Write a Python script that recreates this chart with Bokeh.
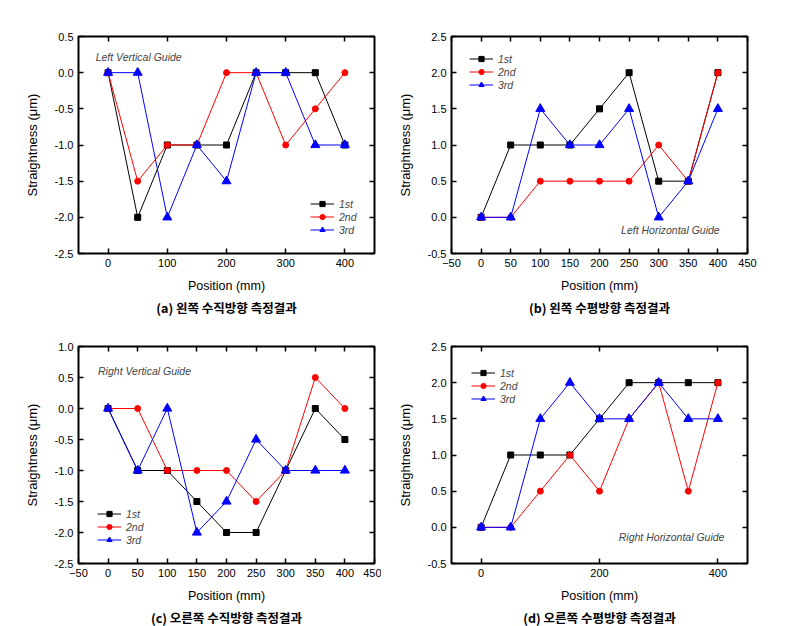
from bokeh.plotting import figure
from bokeh.layouts import column, row
from bokeh.models import (Range1d, FixedTicker, NumeralTickFormatter, LinearAxis,
                          Title, Label)
from bokeh.embed import file_html
from bokeh.resources import INLINE

positions = [0, 50, 100, 150, 200, 250, 300, 350, 400]
series_names = ["1st", "2nd", "3rd"]

a_1st = [0, -2, -1, -1, -1, 0, 0, 0, -1]
a_2nd = [0, -1.5, -1, -1, 0, 0, -1, -0.5, 0]
a_3rd = [0, 0, -2, -1, -1.5, 0, 0, -1, -1]

b_1st = [0, 1, 1, 1, 1.5, 2, 0.5, 0.5, 2]
b_2nd = [0, 0, 0.5, 0.5, 0.5, 0.5, 1, 0.5, 2]
b_3rd = [0, 0, 1.5, 1, 1, 1.5, 0, 0.5, 1.5]

c_1st = [0, -1, -1, -1.5, -2, -2, -1, 0, -0.5]
c_2nd = [0, 0, -1, -1, -1, -1.5, -1, 0.5, 0]
c_3rd = [0, -1, 0, -2, -1.5, -0.5, -1, -1, -1]

d_1st = [0, 1, 1, 1, 1.5, 2, 2, 2, 2]
d_2nd = [0, 0, 0.5, 1, 0.5, 1.5, 2, 0.5, 2]
d_3rd = [0, 0, 1.5, 2, 1.5, 1.5, 2, 1.5, 1.5]

ticks_100 = [0, 100, 200, 300, 400]
ticks_50 = [-50, 0, 50, 100, 150, 200, 250, 300, 350, 400, 450]
ticks_200 = [0, 200, 400]

captions = ["(a) 왼쪽 수직방향 측정결과", "(b) 왼쪽 수평방향 측정결과",
            "(c) 오른쪽 수직방향 측정결과", "(d) 오른쪽 수평방향 측정결과"]
insets = ["Left Vertical Guide", "Left Horizontal Guide",
          "Right Vertical Guide", "Right Horizontal Guide"]

FONT = "Liberation Sans"
colors = ["black", "#ff0000", "#0000ff"]
markers = ["square", "circle", "triangle"]
msizes = [6, 6, 9]


def panel(series, xticks, ylo, yhi, caption, inset, inset_xy, inset_align,
          legend_loc, left, right, top_b, bottom):
    p = figure(frame_width=296, frame_height=217, output_backend="svg",
               toolbar_location=None, x_range=Range1d(-50, 450),
               y_range=Range1d(ylo, yhi), min_border_left=left,
               min_border_right=right, min_border_top=top_b,
               min_border_bottom=bottom)
    p.xgrid.visible = False
    p.ygrid.visible = False
    p.outline_line_color = "black"
    p.outline_line_width = 2
    p.background_fill_color = "white"
    p.border_fill_color = "white"

    yticks = [v / 2 for v in range(int(ylo * 2), int(yhi * 2) + 1)]

    for ax in [p.xaxis[0], p.yaxis[0]]:
        ax.axis_line_color = None
        ax.major_tick_in = 5
        ax.major_tick_out = 0
        ax.major_tick_line_width = 1.5
        ax.minor_tick_line_color = None
        ax.major_label_text_font = FONT
        ax.major_label_text_font_size = "11px"
        ax.major_label_text_color = "black"
        ax.axis_label_text_font = FONT
        ax.axis_label_text_font_style = "normal"
        ax.axis_label_text_color = "black"

    p.xaxis[0].ticker = FixedTicker(ticks=xticks)
    p.xaxis[0].axis_label = "Position (mm)"
    p.xaxis[0].axis_label_text_font_size = "12.5px"
    p.xaxis[0].axis_label_standoff = 9
    p.yaxis[0].ticker = FixedTicker(ticks=yticks)
    p.yaxis[0].formatter = NumeralTickFormatter(format="0.0")
    p.yaxis[0].axis_label = "Straightness (μm)"
    p.yaxis[0].axis_label_text_font_size = "13px"
    p.yaxis[0].axis_label_standoff = 12

    top = LinearAxis(ticker=FixedTicker(ticks=xticks))
    rgt = LinearAxis(ticker=FixedTicker(ticks=yticks))
    for ax in [top, rgt]:
        ax.axis_line_color = None
        ax.major_tick_in = 5
        ax.major_tick_out = 0
        ax.major_tick_line_width = 1.5
        ax.minor_tick_line_color = None
        ax.major_label_text_color = None
        ax.major_label_text_font_size = "0px"
        ax.major_label_standoff = 0
    p.add_layout(top, "above")
    p.add_layout(rgt, "right")

    for vals, name, c, m, s in zip(series, series_names, colors, markers, msizes):
        p.line(positions, vals, line_color=c, line_width=1, legend_label=name)
        p.scatter(positions, vals, marker=m, size=s, fill_color=c, line_color=c,
                  legend_label=name)

    lg = p.legend[0]
    lg.location = legend_loc
    lg.background_fill_alpha = 0
    lg.border_line_color = None
    lg.padding = 0
    lg.margin = 0
    lg.spacing = 0
    lg.glyph_width = 24
    lg.glyph_height = 13
    lg.label_height = 13
    lg.label_standoff = 5
    lg.label_text_font = FONT
    lg.label_text_font_style = "italic"
    lg.label_text_font_size = "10.5px"

    p.add_layout(Label(x=inset_xy[0], y=inset_xy[1], text=inset,
                       text_font=FONT, text_font_style="italic",
                       text_font_size="10.5px", text_baseline="middle",
                       text_align=inset_align))

    p.add_layout(Title(text=caption, align="center", text_font="Noto Sans CJK KR",
                       text_font_style="bold", text_font_size="12.5px",
                       text_color="black", standoff=0), "below")
    return p


pa = panel([a_1st, a_2nd, a_3rd], ticks_100, -2.5, 0.5, captions[0], insets[0],
           (-21, 0.22), "left", (232, 17), 78, 7, 36, 65)
pb = panel([b_1st, b_2nd, b_3rd], ticks_50, -0.5, 2.5, captions[1], insets[1],
           (403, -0.17), "right", (18, 162), 70, 20, 36, 65)
pc = panel([c_1st, c_2nd, c_3rd], ticks_50, -2.5, 1.0, captions[2], insets[2],
           (-17, 0.6), "left", (19, 17), 78, 7, 28, 55)
pd = panel([d_1st, d_2nd, d_3rd], ticks_200, -0.5, 2.5, captions[3], insets[3],
           (411, -0.14), "right", (20, 158), 70, 20, 28, 55)

layout = column(row(pa, pb), row(pc, pd))
open("out.html", "w").write(file_html(layout, INLINE))
